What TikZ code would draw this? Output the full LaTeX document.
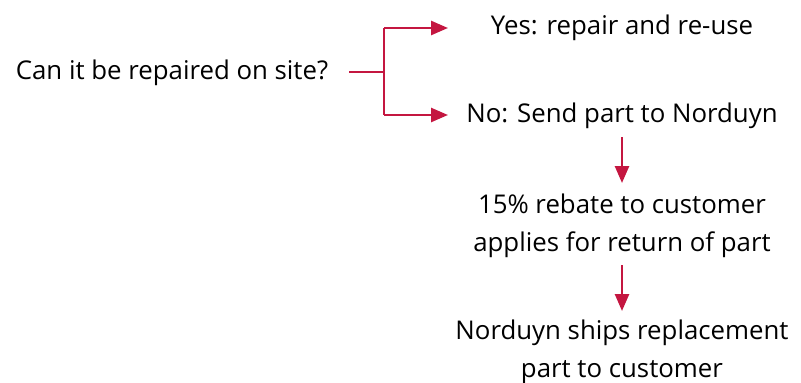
\documentclass[tikz,border=0pt]{standalone}
\usepackage{fontspec}
\setmainfont{Open Sans}
\usetikzlibrary{arrows.meta}
\definecolor{crim}{RGB}{196,22,64}
\begin{document}
\begin{tikzpicture}[x=1pt,y=-1pt,
  lbl/.style={font=\fontsize{25.8}{38}\selectfont, align=center, inner sep=0pt, text=black},
  conn/.style={draw=crim, line width=2.6pt, -{Triangle[length=17pt,width=14pt]}},
  plain/.style={draw=crim, line width=2.6pt}]
\useasboundingbox (0,0) rectangle (801,383);
\node[lbl] (q) at (172,73) {Can it be repaired on site?};
\node[lbl] (yes) at (622,28) {Yes: repair and re-use};
\node[lbl] (no) at (622,116) {No: Send part to Norduyn};
\node[lbl] (reb) at (622,226) {15\% rebate to customer\\applies for return of part};
\node[lbl] (ship) at (622,352) {Norduyn ships replacement\\part to customer};
\coordinate (s) at (349,72);
\coordinate (j) at (384,72);
\coordinate (jt) at (384,28);
\coordinate (jb) at (384,115);
\coordinate (te) at (448,28);
\coordinate (be) at (448,115);
\draw[plain] (s) -- (j);
\draw[plain] (jt) -- (jb);
\draw[conn] (jt) -- (te);
\draw[conn] (jb) -- (be);
\coordinate (a1) at (622,137);
\coordinate (a1e) at (622,183);
\coordinate (a2) at (622,265);
\coordinate (a2e) at (622,311);
\draw[conn] (a1) -- (a1e);
\draw[conn] (a2) -- (a2e);
\end{tikzpicture}
\end{document}
